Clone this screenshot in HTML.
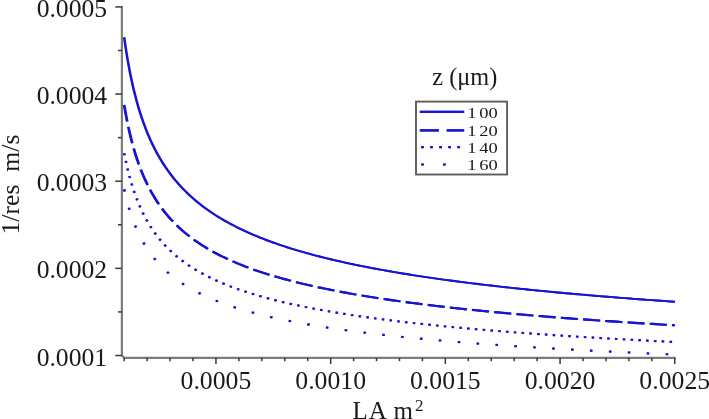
<!DOCTYPE html>
<html><head><meta charset="utf-8"><title>plot</title>
<style>html,body{margin:0;padding:0;background:#fff;}body{width:709px;height:419px;overflow:hidden;}</style>
</head><body>
<svg width="709" height="419" viewBox="0 0 709 419" style="display:block">
<rect width="709" height="419" fill="#fff"/>
<g stroke="#7c7c7c" fill="none" stroke-width="2.2">
<path d="M121.9,6 L121.9,355.5 L124.2,357.8 L675.8,357.8" stroke-linejoin="miter"/>
</g>
<g stroke="#383838" fill="none" stroke-width="1.5">
<path d="M115.3,355.50 H121.9"/>
<path d="M118,311.93 H121.9"/>
<path d="M115.3,268.35 H121.9"/>
<path d="M118,224.77 H121.9"/>
<path d="M115.3,181.20 H121.9"/>
<path d="M118,137.62 H121.9"/>
<path d="M115.3,94.05 H121.9"/>
<path d="M118,50.47 H121.9"/>
<path d="M115.3,6.90 H121.9"/>
<path d="M124.20,357.8 V361.2"/>
<path d="M147.14,357.8 V361.2"/>
<path d="M170.08,357.8 V361.2"/>
<path d="M193.02,357.8 V361.2"/>
<path d="M215.96,357.8 V364"/>
<path d="M238.90,357.8 V361.2"/>
<path d="M261.84,357.8 V361.2"/>
<path d="M284.78,357.8 V361.2"/>
<path d="M307.72,357.8 V361.2"/>
<path d="M330.66,357.8 V364"/>
<path d="M353.60,357.8 V361.2"/>
<path d="M376.54,357.8 V361.2"/>
<path d="M399.48,357.8 V361.2"/>
<path d="M422.42,357.8 V361.2"/>
<path d="M445.36,357.8 V364"/>
<path d="M468.30,357.8 V361.2"/>
<path d="M491.24,357.8 V361.2"/>
<path d="M514.18,357.8 V361.2"/>
<path d="M537.12,357.8 V361.2"/>
<path d="M560.06,357.8 V364"/>
<path d="M583.00,357.8 V361.2"/>
<path d="M605.94,357.8 V361.2"/>
<path d="M628.88,357.8 V361.2"/>
<path d="M651.82,357.8 V361.2"/>
<path d="M674.76,357.8 V364"/>
</g>
<g font-family="'Liberation Serif', 'Times New Roman', serif" fill="#1a1a1a">
<text transform="translate(107.10,365.50) scale(1.025,1)" font-size="25" text-anchor="end" xml:space="preserve">0.0001</text>
<text transform="translate(107.10,278.35) scale(1.025,1)" font-size="25" text-anchor="end" xml:space="preserve">0.0002</text>
<text transform="translate(107.10,191.20) scale(1.025,1)" font-size="25" text-anchor="end" xml:space="preserve">0.0003</text>
<text transform="translate(107.10,104.05) scale(1.025,1)" font-size="25" text-anchor="end" xml:space="preserve">0.0004</text>
<text transform="translate(107.10,16.90) scale(1.025,1)" font-size="25" text-anchor="end" xml:space="preserve">0.0005</text>
<text transform="translate(215.96,389.20) scale(1.03,1)" font-size="25" text-anchor="middle" xml:space="preserve">0.0005</text>
<text transform="translate(330.66,389.20) scale(1.03,1)" font-size="25" text-anchor="middle" xml:space="preserve">0.0010</text>
<text transform="translate(445.36,389.20) scale(1.03,1)" font-size="25" text-anchor="middle" xml:space="preserve">0.0015</text>
<text transform="translate(560.06,389.20) scale(1.03,1)" font-size="25" text-anchor="middle" xml:space="preserve">0.0020</text>
<text transform="translate(674.76,389.20) scale(1.03,1)" font-size="25" text-anchor="middle" xml:space="preserve">0.0025</text>
<text transform="translate(352.60,418.80) scale(1.0,1)" font-size="25" text-anchor="start" xml:space="preserve">L<tspan dx="0.8">A</tspan> <tspan dx="1.8">m</tspan><tspan font-size="17" dy="-7.6" dx="2.2">2</tspan></text>
<text transform="translate(18.90,234.60) rotate(-90) scale(1.03,1)" font-size="25" text-anchor="start" xml:space="preserve">1/res  m/s</text>
<text transform="translate(432.30,85.00) scale(0.972,1)" font-size="25" text-anchor="start" xml:space="preserve">z (μm)</text>
</g>
<g transform="translate(-0.32,0)" stroke="#1814d2" fill="none" stroke-width="1.9">
<path d="M124.20,37.42 L124.21,37.49 L124.24,37.70 L124.29,38.05 L124.35,38.53 L124.44,39.15 L124.55,39.91 L124.67,40.79 L124.82,41.80 L124.98,42.93 L125.16,44.18 L125.37,45.54 L125.59,47.01 L125.83,48.59 L126.09,50.27 L126.37,52.03 L126.67,53.89 L126.99,55.82 L127.32,57.84 L127.68,59.92 L128.06,62.07 L128.45,64.28 L128.87,66.54 L129.30,68.85 L129.75,71.20 L130.22,73.59 L130.72,76.01 L131.23,78.46 L131.76,80.94 L132.31,83.43 L132.87,85.94 L133.46,88.47 L134.07,91.00 L134.70,93.53 L135.34,96.07 L136.01,98.61 L136.69,101.14 L137.40,103.67 L138.12,106.19 L138.86,108.69 L139.62,111.19 L140.40,113.66 L141.20,116.13 L142.02,118.57 L142.86,121.00 L143.72,123.40 L144.60,125.78 L145.49,128.14 L146.41,130.48 L147.34,132.80 L148.30,135.08 L149.27,137.35 L150.26,139.59 L151.27,141.80 L152.31,143.98 L153.36,146.14 L154.43,148.28 L155.52,150.38 L156.62,152.46 L157.75,154.51 L158.90,156.54 L160.06,158.54 L161.25,160.51 L162.46,162.45 L163.68,164.37 L164.92,166.27 L166.19,168.13 L167.47,169.97 L168.77,171.79 L170.09,173.58 L171.43,175.34 L172.79,177.09 L174.17,178.80 L175.56,180.49 L176.98,182.16 L178.42,183.81 L179.87,185.43 L181.35,187.03 L182.84,188.60 L184.35,190.16 L185.89,191.69 L187.44,193.20 L189.01,194.69 L190.60,196.16 L192.21,197.61 L193.84,199.04 L195.49,200.45 L197.15,201.84 L198.84,203.21 L200.55,204.56 L202.27,205.89 L204.02,207.21 L205.78,208.51 L207.56,209.79 L209.37,211.05 L211.19,212.30 L213.03,213.52 L214.89,214.74 L216.77,215.93 L218.67,217.12 L220.58,218.28 L222.52,219.43 L224.48,220.57 L226.45,221.69 L228.45,222.79 L230.46,223.89 L232.50,224.96 L234.55,226.03 L236.62,227.08 L238.71,228.12 L240.83,229.14 L242.96,230.15 L245.11,231.15 L247.27,232.14 L249.46,233.12 L251.67,234.08 L253.90,235.03 L256.14,235.97 L258.41,236.90 L260.69,237.82 L262.99,238.73 L265.32,239.62 L267.66,240.51 L270.02,241.39 L272.40,242.25 L274.80,243.11 L277.22,243.95 L279.66,244.79 L282.12,245.61 L284.59,246.43 L287.09,247.24 L289.61,248.04 L292.14,248.83 L294.70,249.61 L297.27,250.38 L299.86,251.15 L302.47,251.90 L305.10,252.65 L307.76,253.39 L310.43,254.12 L313.11,254.85 L315.82,255.56 L318.55,256.27 L321.30,256.97 L324.06,257.67 L326.85,258.36 L329.65,259.04 L332.48,259.71 L335.32,260.38 L338.18,261.03 L341.07,261.69 L343.97,262.33 L346.89,262.97 L349.83,263.61 L352.79,264.23 L355.76,264.86 L358.76,265.47 L361.78,266.08 L364.82,266.68 L367.87,267.28 L370.95,267.87 L374.04,268.46 L377.15,269.04 L380.28,269.61 L383.44,270.18 L386.61,270.75 L389.80,271.31 L393.01,271.86 L396.24,272.41 L399.48,272.95 L402.75,273.49 L406.04,274.03 L409.34,274.55 L412.67,275.08 L416.01,275.60 L419.38,276.11 L422.76,276.62 L426.16,277.13 L429.59,277.63 L433.03,278.13 L436.49,278.62 L439.97,279.11 L443.47,279.60 L446.98,280.08 L450.52,280.55 L454.08,281.03 L457.65,281.49 L461.25,281.96 L464.86,282.42 L468.50,282.88 L472.15,283.33 L475.82,283.78 L479.51,284.22 L483.22,284.67 L486.95,285.11 L490.70,285.54 L494.47,285.97 L498.26,286.40 L502.07,286.82 L505.89,287.25 L509.74,287.66 L513.60,288.08 L517.49,288.49 L521.39,288.90 L525.32,289.30 L529.26,289.71 L533.22,290.10 L537.20,290.50 L541.20,290.89 L545.22,291.28 L549.26,291.67 L553.32,292.05 L557.39,292.44 L561.49,292.81 L565.60,293.19 L569.74,293.56 L573.89,293.93 L578.07,294.30 L582.26,294.66 L586.47,295.03 L590.70,295.39 L594.95,295.74 L599.22,296.10 L603.51,296.45 L607.82,296.80 L612.15,297.15 L616.50,297.49 L620.86,297.83 L625.25,298.17 L629.65,298.51 L634.08,298.85 L638.52,299.18 L642.98,299.51 L647.46,299.84 L651.96,300.16 L656.49,300.49 L661.03,300.81 L665.58,301.13 L670.16,301.44 L674.76,301.76"/>
<path d="M124.20,104.96 L124.21,105.02 L124.24,105.19 L124.29,105.48 L124.35,105.89 L124.44,106.40 L124.55,107.03 L124.67,107.77 L124.82,108.61 L124.98,109.55 L125.16,110.59 L125.37,111.73 L125.59,112.95 L125.83,114.27 L126.09,115.66 L126.37,117.14 L126.67,118.68 L126.99,120.30 L127.32,121.97 L127.68,123.71 L128.06,125.50 L128.45,127.34 L128.87,129.22 L129.30,131.15 L129.75,133.11 L130.22,135.10 L130.72,137.12 L131.23,139.16 L131.76,141.22 L132.31,143.30 L132.87,145.40 L133.46,147.50 L134.07,149.61 L134.70,151.72 L135.34,153.84 L136.01,155.95 L136.69,158.06 L137.40,160.17 L138.12,162.26 L138.86,164.35 L139.62,166.43 L140.40,168.50 L141.20,170.55 L142.02,172.58 L142.86,174.60 L143.72,176.61 L144.60,178.59 L145.49,180.56 L146.41,182.51 L147.34,184.44 L148.30,186.35 L149.27,188.23 L150.26,190.10 L151.27,191.94 L152.31,193.76 L153.36,195.56 L154.43,197.34 L155.52,199.09 L156.62,200.83 L157.75,202.54 L158.90,204.22 L160.06,205.89 L161.25,207.53 L162.46,209.15 L163.68,210.75 L164.92,212.33 L166.19,213.89 L167.47,215.42 L168.77,216.93 L170.09,218.42 L171.43,219.90 L172.79,221.35 L174.17,222.78 L175.56,224.19 L176.98,225.58 L178.42,226.95 L179.87,228.30 L181.35,229.63 L182.84,230.94 L184.35,232.24 L185.89,233.52 L187.44,234.78 L189.01,236.02 L190.60,237.24 L192.21,238.45 L193.84,239.64 L195.49,240.82 L197.15,241.97 L198.84,243.12 L200.55,244.24 L202.27,245.35 L204.02,246.45 L205.78,247.53 L207.56,248.60 L209.37,249.65 L211.19,250.69 L213.03,251.71 L214.89,252.72 L216.77,253.72 L218.67,254.70 L220.58,255.68 L222.52,256.63 L224.48,257.58 L226.45,258.51 L228.45,259.44 L230.46,260.35 L232.50,261.24 L234.55,262.13 L236.62,263.01 L238.71,263.87 L240.83,264.73 L242.96,265.57 L245.11,266.40 L247.27,267.23 L249.46,268.04 L251.67,268.84 L253.90,269.64 L256.14,270.42 L258.41,271.19 L260.69,271.96 L262.99,272.71 L265.32,273.46 L267.66,274.20 L270.02,274.93 L272.40,275.65 L274.80,276.36 L277.22,277.07 L279.66,277.76 L282.12,278.45 L284.59,279.13 L287.09,279.81 L289.61,280.47 L292.14,281.13 L294.70,281.78 L297.27,282.43 L299.86,283.06 L302.47,283.69 L305.10,284.32 L307.76,284.93 L310.43,285.54 L313.11,286.15 L315.82,286.75 L318.55,287.34 L321.30,287.92 L324.06,288.50 L326.85,289.07 L329.65,289.64 L332.48,290.20 L335.32,290.75 L338.18,291.30 L341.07,291.85 L343.97,292.39 L346.89,292.92 L349.83,293.45 L352.79,293.97 L355.76,294.49 L358.76,295.00 L361.78,295.51 L364.82,296.01 L367.87,296.51 L370.95,297.00 L374.04,297.49 L377.15,297.97 L380.28,298.45 L383.44,298.93 L386.61,299.40 L389.80,299.86 L393.01,300.32 L396.24,300.78 L399.48,301.24 L402.75,301.68 L406.04,302.13 L409.34,302.57 L412.67,303.01 L416.01,303.44 L419.38,303.87 L422.76,304.30 L426.16,304.72 L429.59,305.14 L433.03,305.55 L436.49,305.96 L439.97,306.37 L443.47,306.77 L446.98,307.17 L450.52,307.57 L454.08,307.96 L457.65,308.35 L461.25,308.74 L464.86,309.12 L468.50,309.51 L472.15,309.88 L475.82,310.26 L479.51,310.63 L483.22,311.00 L486.95,311.36 L490.70,311.73 L494.47,312.08 L498.26,312.44 L502.07,312.80 L505.89,313.15 L509.74,313.49 L513.60,313.84 L517.49,314.18 L521.39,314.52 L525.32,314.86 L529.26,315.20 L533.22,315.53 L537.20,315.86 L541.20,316.19 L545.22,316.51 L549.26,316.83 L553.32,317.15 L557.39,317.47 L561.49,317.79 L565.60,318.10 L569.74,318.41 L573.89,318.72 L578.07,319.03 L582.26,319.33 L586.47,319.63 L590.70,319.93 L594.95,320.23 L599.22,320.52 L603.51,320.82 L607.82,321.11 L612.15,321.40 L616.50,321.68 L620.86,321.97 L625.25,322.25 L629.65,322.53 L634.08,322.81 L638.52,323.09 L642.98,323.37 L647.46,323.64 L651.96,323.91 L656.49,324.18 L661.03,324.45 L665.58,324.71 L670.16,324.98 L674.76,325.24" stroke-dasharray="16.8 5.490" stroke-width="2.15"/>
<path d="M124.20,153.20 L124.21,153.25 L124.24,153.40 L124.29,153.65 L124.35,154.00 L124.44,154.44 L124.55,154.98 L124.67,155.61 L124.82,156.33 L124.98,157.14 L125.16,158.03 L125.37,159.00 L125.59,160.05 L125.83,161.18 L126.09,162.38 L126.37,163.64 L126.67,164.96 L126.99,166.35 L127.32,167.78 L127.68,169.27 L128.06,170.81 L128.45,172.38 L128.87,174.00 L129.30,175.65 L129.75,177.33 L130.22,179.03 L130.72,180.76 L131.23,182.52 L131.76,184.28 L132.31,186.07 L132.87,187.86 L133.46,189.66 L134.07,191.47 L134.70,193.28 L135.34,195.09 L136.01,196.91 L136.69,198.72 L137.40,200.52 L138.12,202.32 L138.86,204.11 L139.62,205.89 L140.40,207.66 L141.20,209.42 L142.02,211.16 L142.86,212.90 L143.72,214.61 L144.60,216.32 L145.49,218.00 L146.41,219.67 L147.34,221.33 L148.30,222.96 L149.27,224.58 L150.26,226.18 L151.27,227.76 L152.31,229.32 L153.36,230.86 L154.43,232.38 L155.52,233.89 L156.62,235.37 L157.75,236.84 L158.90,238.28 L160.06,239.71 L161.25,241.12 L162.46,242.51 L163.68,243.88 L164.92,245.23 L166.19,246.57 L167.47,247.88 L168.77,249.18 L170.09,250.46 L171.43,251.72 L172.79,252.96 L174.17,254.19 L175.56,255.40 L176.98,256.59 L178.42,257.76 L179.87,258.92 L181.35,260.06 L182.84,261.19 L184.35,262.30 L185.89,263.39 L187.44,264.47 L189.01,265.54 L190.60,266.59 L192.21,267.62 L193.84,268.64 L195.49,269.65 L197.15,270.64 L198.84,271.62 L200.55,272.59 L202.27,273.54 L204.02,274.48 L205.78,275.41 L207.56,276.32 L209.37,277.22 L211.19,278.11 L213.03,278.99 L214.89,279.86 L216.77,280.71 L218.67,281.55 L220.58,282.39 L222.52,283.21 L224.48,284.02 L226.45,284.82 L228.45,285.61 L230.46,286.39 L232.50,287.16 L234.55,287.92 L236.62,288.67 L238.71,289.41 L240.83,290.14 L242.96,290.87 L245.11,291.58 L247.27,292.29 L249.46,292.98 L251.67,293.67 L253.90,294.35 L256.14,295.02 L258.41,295.69 L260.69,296.34 L262.99,296.99 L265.32,297.63 L267.66,298.26 L270.02,298.89 L272.40,299.51 L274.80,300.12 L277.22,300.72 L279.66,301.32 L282.12,301.91 L284.59,302.49 L287.09,303.07 L289.61,303.64 L292.14,304.21 L294.70,304.76 L297.27,305.32 L299.86,305.86 L302.47,306.40 L305.10,306.94 L307.76,307.47 L310.43,307.99 L313.11,308.51 L315.82,309.02 L318.55,309.52 L321.30,310.02 L324.06,310.52 L326.85,311.01 L329.65,311.50 L332.48,311.98 L335.32,312.45 L338.18,312.92 L341.07,313.39 L343.97,313.85 L346.89,314.31 L349.83,314.76 L352.79,315.21 L355.76,315.65 L358.76,316.09 L361.78,316.53 L364.82,316.96 L367.87,317.39 L370.95,317.81 L374.04,318.23 L377.15,318.64 L380.28,319.05 L383.44,319.46 L386.61,319.86 L389.80,320.26 L393.01,320.66 L396.24,321.05 L399.48,321.44 L402.75,321.82 L406.04,322.20 L409.34,322.58 L412.67,322.96 L416.01,323.33 L419.38,323.70 L422.76,324.06 L426.16,324.42 L429.59,324.78 L433.03,325.14 L436.49,325.49 L439.97,325.84 L443.47,326.18 L446.98,326.53 L450.52,326.87 L454.08,327.20 L457.65,327.54 L461.25,327.87 L464.86,328.20 L468.50,328.53 L472.15,328.85 L475.82,329.17 L479.51,329.49 L483.22,329.80 L486.95,330.12 L490.70,330.43 L494.47,330.74 L498.26,331.04 L502.07,331.35 L505.89,331.65 L509.74,331.95 L513.60,332.24 L517.49,332.54 L521.39,332.83 L525.32,333.12 L529.26,333.40 L533.22,333.69 L537.20,333.97 L541.20,334.25 L545.22,334.53 L549.26,334.81 L553.32,335.08 L557.39,335.35 L561.49,335.62 L565.60,335.89 L569.74,336.16 L573.89,336.42 L578.07,336.69 L582.26,336.95 L586.47,337.21 L590.70,337.46 L594.95,337.72 L599.22,337.97 L603.51,338.22 L607.82,338.47 L612.15,338.72 L616.50,338.96 L620.86,339.21 L625.25,339.45 L629.65,339.69 L634.08,339.93 L638.52,340.17 L642.98,340.41 L647.46,340.64 L651.96,340.87 L656.49,341.10 L661.03,341.33 L665.58,341.56 L670.16,341.79 L674.76,342.01" stroke-dasharray="2.1 5.702" stroke-width="2.1"/>
<path d="M124.20,189.38 L124.21,189.43 L124.24,189.56 L124.29,189.77 L124.35,190.08 L124.44,190.47 L124.55,190.94 L124.67,191.49 L124.82,192.12 L124.98,192.82 L125.16,193.61 L125.37,194.46 L125.59,195.38 L125.83,196.36 L126.09,197.41 L126.37,198.51 L126.67,199.67 L126.99,200.88 L127.32,202.14 L127.68,203.44 L128.06,204.79 L128.45,206.17 L128.87,207.58 L129.30,209.02 L129.75,210.49 L130.22,211.99 L130.72,213.50 L131.23,215.03 L131.76,216.58 L132.31,218.14 L132.87,219.71 L133.46,221.29 L134.07,222.87 L134.70,224.45 L135.34,226.04 L136.01,227.62 L136.69,229.21 L137.40,230.79 L138.12,232.36 L138.86,233.93 L139.62,235.48 L140.40,237.03 L141.20,238.57 L142.02,240.10 L142.86,241.62 L143.72,243.12 L144.60,244.61 L145.49,246.08 L146.41,247.55 L147.34,248.99 L148.30,250.42 L149.27,251.84 L150.26,253.24 L151.27,254.62 L152.31,255.98 L153.36,257.33 L154.43,258.67 L155.52,259.98 L156.62,261.28 L157.75,262.56 L158.90,263.83 L160.06,265.08 L161.25,266.31 L162.46,267.53 L163.68,268.73 L164.92,269.91 L166.19,271.08 L167.47,272.23 L168.77,273.36 L170.09,274.48 L171.43,275.58 L172.79,276.67 L174.17,277.74 L175.56,278.80 L176.98,279.84 L178.42,280.87 L179.87,281.89 L181.35,282.89 L182.84,283.87 L184.35,284.84 L185.89,285.80 L187.44,286.75 L189.01,287.68 L190.60,288.59 L192.21,289.50 L193.84,290.39 L195.49,291.27 L197.15,292.14 L198.84,293.00 L200.55,293.84 L202.27,294.68 L204.02,295.50 L205.78,296.31 L207.56,297.11 L209.37,297.90 L211.19,298.68 L213.03,299.45 L214.89,300.20 L216.77,300.95 L218.67,301.69 L220.58,302.42 L222.52,303.14 L224.48,303.85 L226.45,304.55 L228.45,305.24 L230.46,305.92 L232.50,306.60 L234.55,307.26 L236.62,307.92 L238.71,308.57 L240.83,309.21 L242.96,309.84 L245.11,310.47 L247.27,311.08 L249.46,311.69 L251.67,312.29 L253.90,312.89 L256.14,313.48 L258.41,314.06 L260.69,314.63 L262.99,315.20 L265.32,315.76 L267.66,316.31 L270.02,316.86 L272.40,317.40 L274.80,317.94 L277.22,318.46 L279.66,318.99 L282.12,319.50 L284.59,320.01 L287.09,320.52 L289.61,321.02 L292.14,321.51 L294.70,322.00 L297.27,322.48 L299.86,322.96 L302.47,323.43 L305.10,323.90 L307.76,324.36 L310.43,324.82 L313.11,325.27 L315.82,325.72 L318.55,326.16 L321.30,326.60 L324.06,327.04 L326.85,327.47 L329.65,327.89 L332.48,328.31 L335.32,328.73 L338.18,329.14 L341.07,329.55 L343.97,329.95 L346.89,330.35 L349.83,330.75 L352.79,331.14 L355.76,331.53 L358.76,331.91 L361.78,332.29 L364.82,332.67 L367.87,333.04 L370.95,333.41 L374.04,333.78 L377.15,334.14 L380.28,334.50 L383.44,334.86 L386.61,335.21 L389.80,335.56 L393.01,335.91 L396.24,336.25 L399.48,336.59 L402.75,336.93 L406.04,337.26 L409.34,337.59 L412.67,337.92 L416.01,338.24 L419.38,338.56 L422.76,338.88 L426.16,339.20 L429.59,339.51 L433.03,339.82 L436.49,340.13 L439.97,340.44 L443.47,340.74 L446.98,341.04 L450.52,341.34 L454.08,341.63 L457.65,341.93 L461.25,342.22 L464.86,342.51 L468.50,342.79 L472.15,343.07 L475.82,343.36 L479.51,343.63 L483.22,343.91 L486.95,344.18 L490.70,344.46 L494.47,344.73 L498.26,344.99 L502.07,345.26 L505.89,345.52 L509.74,345.78 L513.60,346.04 L517.49,346.30 L521.39,346.56 L525.32,346.81 L529.26,347.06 L533.22,347.31 L537.20,347.56 L541.20,347.80 L545.22,348.05 L549.26,348.29 L553.32,348.53 L557.39,348.77 L561.49,349.00 L565.60,349.24 L569.74,349.47 L573.89,349.70 L578.07,349.93 L582.26,350.16 L586.47,350.39 L590.70,350.61 L594.95,350.83 L599.22,351.06 L603.51,351.27 L607.82,351.49 L612.15,351.71 L616.50,351.93 L620.86,352.14 L625.25,352.35 L629.65,352.56 L634.08,352.77 L638.52,352.98 L642.98,353.19 L647.46,353.39 L651.96,353.60 L656.49,353.80 L661.03,354.00 L665.58,354.20 L670.16,354.40 L674.76,354.59" stroke-dasharray="2.1 16.843" stroke-width="2.1"/>
</g>
<g transform="translate(0.32,0)" stroke="#1814d2" fill="none" stroke-width="1.9">
<path d="M124.20,37.42 L124.21,37.49 L124.24,37.70 L124.29,38.05 L124.35,38.53 L124.44,39.15 L124.55,39.91 L124.67,40.79 L124.82,41.80 L124.98,42.93 L125.16,44.18 L125.37,45.54 L125.59,47.01 L125.83,48.59 L126.09,50.27 L126.37,52.03 L126.67,53.89 L126.99,55.82 L127.32,57.84 L127.68,59.92 L128.06,62.07 L128.45,64.28 L128.87,66.54 L129.30,68.85 L129.75,71.20 L130.22,73.59 L130.72,76.01 L131.23,78.46 L131.76,80.94 L132.31,83.43 L132.87,85.94 L133.46,88.47 L134.07,91.00 L134.70,93.53 L135.34,96.07 L136.01,98.61 L136.69,101.14 L137.40,103.67 L138.12,106.19 L138.86,108.69 L139.62,111.19 L140.40,113.66 L141.20,116.13 L142.02,118.57 L142.86,121.00 L143.72,123.40 L144.60,125.78 L145.49,128.14 L146.41,130.48 L147.34,132.80 L148.30,135.08 L149.27,137.35 L150.26,139.59 L151.27,141.80 L152.31,143.98 L153.36,146.14 L154.43,148.28 L155.52,150.38 L156.62,152.46 L157.75,154.51 L158.90,156.54 L160.06,158.54 L161.25,160.51 L162.46,162.45 L163.68,164.37 L164.92,166.27 L166.19,168.13 L167.47,169.97 L168.77,171.79 L170.09,173.58 L171.43,175.34 L172.79,177.09 L174.17,178.80 L175.56,180.49 L176.98,182.16 L178.42,183.81 L179.87,185.43 L181.35,187.03 L182.84,188.60 L184.35,190.16 L185.89,191.69 L187.44,193.20 L189.01,194.69 L190.60,196.16 L192.21,197.61 L193.84,199.04 L195.49,200.45 L197.15,201.84 L198.84,203.21 L200.55,204.56 L202.27,205.89 L204.02,207.21 L205.78,208.51 L207.56,209.79 L209.37,211.05 L211.19,212.30 L213.03,213.52 L214.89,214.74 L216.77,215.93 L218.67,217.12 L220.58,218.28 L222.52,219.43 L224.48,220.57 L226.45,221.69 L228.45,222.79 L230.46,223.89 L232.50,224.96 L234.55,226.03 L236.62,227.08 L238.71,228.12 L240.83,229.14 L242.96,230.15 L245.11,231.15 L247.27,232.14 L249.46,233.12 L251.67,234.08 L253.90,235.03 L256.14,235.97 L258.41,236.90 L260.69,237.82 L262.99,238.73 L265.32,239.62 L267.66,240.51 L270.02,241.39 L272.40,242.25 L274.80,243.11 L277.22,243.95 L279.66,244.79 L282.12,245.61 L284.59,246.43 L287.09,247.24 L289.61,248.04 L292.14,248.83 L294.70,249.61 L297.27,250.38 L299.86,251.15 L302.47,251.90 L305.10,252.65 L307.76,253.39 L310.43,254.12 L313.11,254.85 L315.82,255.56 L318.55,256.27 L321.30,256.97 L324.06,257.67 L326.85,258.36 L329.65,259.04 L332.48,259.71 L335.32,260.38 L338.18,261.03 L341.07,261.69 L343.97,262.33 L346.89,262.97 L349.83,263.61 L352.79,264.23 L355.76,264.86 L358.76,265.47 L361.78,266.08 L364.82,266.68 L367.87,267.28 L370.95,267.87 L374.04,268.46 L377.15,269.04 L380.28,269.61 L383.44,270.18 L386.61,270.75 L389.80,271.31 L393.01,271.86 L396.24,272.41 L399.48,272.95 L402.75,273.49 L406.04,274.03 L409.34,274.55 L412.67,275.08 L416.01,275.60 L419.38,276.11 L422.76,276.62 L426.16,277.13 L429.59,277.63 L433.03,278.13 L436.49,278.62 L439.97,279.11 L443.47,279.60 L446.98,280.08 L450.52,280.55 L454.08,281.03 L457.65,281.49 L461.25,281.96 L464.86,282.42 L468.50,282.88 L472.15,283.33 L475.82,283.78 L479.51,284.22 L483.22,284.67 L486.95,285.11 L490.70,285.54 L494.47,285.97 L498.26,286.40 L502.07,286.82 L505.89,287.25 L509.74,287.66 L513.60,288.08 L517.49,288.49 L521.39,288.90 L525.32,289.30 L529.26,289.71 L533.22,290.10 L537.20,290.50 L541.20,290.89 L545.22,291.28 L549.26,291.67 L553.32,292.05 L557.39,292.44 L561.49,292.81 L565.60,293.19 L569.74,293.56 L573.89,293.93 L578.07,294.30 L582.26,294.66 L586.47,295.03 L590.70,295.39 L594.95,295.74 L599.22,296.10 L603.51,296.45 L607.82,296.80 L612.15,297.15 L616.50,297.49 L620.86,297.83 L625.25,298.17 L629.65,298.51 L634.08,298.85 L638.52,299.18 L642.98,299.51 L647.46,299.84 L651.96,300.16 L656.49,300.49 L661.03,300.81 L665.58,301.13 L670.16,301.44 L674.76,301.76"/>
<path d="M124.20,104.96 L124.21,105.02 L124.24,105.19 L124.29,105.48 L124.35,105.89 L124.44,106.40 L124.55,107.03 L124.67,107.77 L124.82,108.61 L124.98,109.55 L125.16,110.59 L125.37,111.73 L125.59,112.95 L125.83,114.27 L126.09,115.66 L126.37,117.14 L126.67,118.68 L126.99,120.30 L127.32,121.97 L127.68,123.71 L128.06,125.50 L128.45,127.34 L128.87,129.22 L129.30,131.15 L129.75,133.11 L130.22,135.10 L130.72,137.12 L131.23,139.16 L131.76,141.22 L132.31,143.30 L132.87,145.40 L133.46,147.50 L134.07,149.61 L134.70,151.72 L135.34,153.84 L136.01,155.95 L136.69,158.06 L137.40,160.17 L138.12,162.26 L138.86,164.35 L139.62,166.43 L140.40,168.50 L141.20,170.55 L142.02,172.58 L142.86,174.60 L143.72,176.61 L144.60,178.59 L145.49,180.56 L146.41,182.51 L147.34,184.44 L148.30,186.35 L149.27,188.23 L150.26,190.10 L151.27,191.94 L152.31,193.76 L153.36,195.56 L154.43,197.34 L155.52,199.09 L156.62,200.83 L157.75,202.54 L158.90,204.22 L160.06,205.89 L161.25,207.53 L162.46,209.15 L163.68,210.75 L164.92,212.33 L166.19,213.89 L167.47,215.42 L168.77,216.93 L170.09,218.42 L171.43,219.90 L172.79,221.35 L174.17,222.78 L175.56,224.19 L176.98,225.58 L178.42,226.95 L179.87,228.30 L181.35,229.63 L182.84,230.94 L184.35,232.24 L185.89,233.52 L187.44,234.78 L189.01,236.02 L190.60,237.24 L192.21,238.45 L193.84,239.64 L195.49,240.82 L197.15,241.97 L198.84,243.12 L200.55,244.24 L202.27,245.35 L204.02,246.45 L205.78,247.53 L207.56,248.60 L209.37,249.65 L211.19,250.69 L213.03,251.71 L214.89,252.72 L216.77,253.72 L218.67,254.70 L220.58,255.68 L222.52,256.63 L224.48,257.58 L226.45,258.51 L228.45,259.44 L230.46,260.35 L232.50,261.24 L234.55,262.13 L236.62,263.01 L238.71,263.87 L240.83,264.73 L242.96,265.57 L245.11,266.40 L247.27,267.23 L249.46,268.04 L251.67,268.84 L253.90,269.64 L256.14,270.42 L258.41,271.19 L260.69,271.96 L262.99,272.71 L265.32,273.46 L267.66,274.20 L270.02,274.93 L272.40,275.65 L274.80,276.36 L277.22,277.07 L279.66,277.76 L282.12,278.45 L284.59,279.13 L287.09,279.81 L289.61,280.47 L292.14,281.13 L294.70,281.78 L297.27,282.43 L299.86,283.06 L302.47,283.69 L305.10,284.32 L307.76,284.93 L310.43,285.54 L313.11,286.15 L315.82,286.75 L318.55,287.34 L321.30,287.92 L324.06,288.50 L326.85,289.07 L329.65,289.64 L332.48,290.20 L335.32,290.75 L338.18,291.30 L341.07,291.85 L343.97,292.39 L346.89,292.92 L349.83,293.45 L352.79,293.97 L355.76,294.49 L358.76,295.00 L361.78,295.51 L364.82,296.01 L367.87,296.51 L370.95,297.00 L374.04,297.49 L377.15,297.97 L380.28,298.45 L383.44,298.93 L386.61,299.40 L389.80,299.86 L393.01,300.32 L396.24,300.78 L399.48,301.24 L402.75,301.68 L406.04,302.13 L409.34,302.57 L412.67,303.01 L416.01,303.44 L419.38,303.87 L422.76,304.30 L426.16,304.72 L429.59,305.14 L433.03,305.55 L436.49,305.96 L439.97,306.37 L443.47,306.77 L446.98,307.17 L450.52,307.57 L454.08,307.96 L457.65,308.35 L461.25,308.74 L464.86,309.12 L468.50,309.51 L472.15,309.88 L475.82,310.26 L479.51,310.63 L483.22,311.00 L486.95,311.36 L490.70,311.73 L494.47,312.08 L498.26,312.44 L502.07,312.80 L505.89,313.15 L509.74,313.49 L513.60,313.84 L517.49,314.18 L521.39,314.52 L525.32,314.86 L529.26,315.20 L533.22,315.53 L537.20,315.86 L541.20,316.19 L545.22,316.51 L549.26,316.83 L553.32,317.15 L557.39,317.47 L561.49,317.79 L565.60,318.10 L569.74,318.41 L573.89,318.72 L578.07,319.03 L582.26,319.33 L586.47,319.63 L590.70,319.93 L594.95,320.23 L599.22,320.52 L603.51,320.82 L607.82,321.11 L612.15,321.40 L616.50,321.68 L620.86,321.97 L625.25,322.25 L629.65,322.53 L634.08,322.81 L638.52,323.09 L642.98,323.37 L647.46,323.64 L651.96,323.91 L656.49,324.18 L661.03,324.45 L665.58,324.71 L670.16,324.98 L674.76,325.24" stroke-dasharray="16.8 5.490" stroke-width="2.15"/>
<path d="M124.20,153.20 L124.21,153.25 L124.24,153.40 L124.29,153.65 L124.35,154.00 L124.44,154.44 L124.55,154.98 L124.67,155.61 L124.82,156.33 L124.98,157.14 L125.16,158.03 L125.37,159.00 L125.59,160.05 L125.83,161.18 L126.09,162.38 L126.37,163.64 L126.67,164.96 L126.99,166.35 L127.32,167.78 L127.68,169.27 L128.06,170.81 L128.45,172.38 L128.87,174.00 L129.30,175.65 L129.75,177.33 L130.22,179.03 L130.72,180.76 L131.23,182.52 L131.76,184.28 L132.31,186.07 L132.87,187.86 L133.46,189.66 L134.07,191.47 L134.70,193.28 L135.34,195.09 L136.01,196.91 L136.69,198.72 L137.40,200.52 L138.12,202.32 L138.86,204.11 L139.62,205.89 L140.40,207.66 L141.20,209.42 L142.02,211.16 L142.86,212.90 L143.72,214.61 L144.60,216.32 L145.49,218.00 L146.41,219.67 L147.34,221.33 L148.30,222.96 L149.27,224.58 L150.26,226.18 L151.27,227.76 L152.31,229.32 L153.36,230.86 L154.43,232.38 L155.52,233.89 L156.62,235.37 L157.75,236.84 L158.90,238.28 L160.06,239.71 L161.25,241.12 L162.46,242.51 L163.68,243.88 L164.92,245.23 L166.19,246.57 L167.47,247.88 L168.77,249.18 L170.09,250.46 L171.43,251.72 L172.79,252.96 L174.17,254.19 L175.56,255.40 L176.98,256.59 L178.42,257.76 L179.87,258.92 L181.35,260.06 L182.84,261.19 L184.35,262.30 L185.89,263.39 L187.44,264.47 L189.01,265.54 L190.60,266.59 L192.21,267.62 L193.84,268.64 L195.49,269.65 L197.15,270.64 L198.84,271.62 L200.55,272.59 L202.27,273.54 L204.02,274.48 L205.78,275.41 L207.56,276.32 L209.37,277.22 L211.19,278.11 L213.03,278.99 L214.89,279.86 L216.77,280.71 L218.67,281.55 L220.58,282.39 L222.52,283.21 L224.48,284.02 L226.45,284.82 L228.45,285.61 L230.46,286.39 L232.50,287.16 L234.55,287.92 L236.62,288.67 L238.71,289.41 L240.83,290.14 L242.96,290.87 L245.11,291.58 L247.27,292.29 L249.46,292.98 L251.67,293.67 L253.90,294.35 L256.14,295.02 L258.41,295.69 L260.69,296.34 L262.99,296.99 L265.32,297.63 L267.66,298.26 L270.02,298.89 L272.40,299.51 L274.80,300.12 L277.22,300.72 L279.66,301.32 L282.12,301.91 L284.59,302.49 L287.09,303.07 L289.61,303.64 L292.14,304.21 L294.70,304.76 L297.27,305.32 L299.86,305.86 L302.47,306.40 L305.10,306.94 L307.76,307.47 L310.43,307.99 L313.11,308.51 L315.82,309.02 L318.55,309.52 L321.30,310.02 L324.06,310.52 L326.85,311.01 L329.65,311.50 L332.48,311.98 L335.32,312.45 L338.18,312.92 L341.07,313.39 L343.97,313.85 L346.89,314.31 L349.83,314.76 L352.79,315.21 L355.76,315.65 L358.76,316.09 L361.78,316.53 L364.82,316.96 L367.87,317.39 L370.95,317.81 L374.04,318.23 L377.15,318.64 L380.28,319.05 L383.44,319.46 L386.61,319.86 L389.80,320.26 L393.01,320.66 L396.24,321.05 L399.48,321.44 L402.75,321.82 L406.04,322.20 L409.34,322.58 L412.67,322.96 L416.01,323.33 L419.38,323.70 L422.76,324.06 L426.16,324.42 L429.59,324.78 L433.03,325.14 L436.49,325.49 L439.97,325.84 L443.47,326.18 L446.98,326.53 L450.52,326.87 L454.08,327.20 L457.65,327.54 L461.25,327.87 L464.86,328.20 L468.50,328.53 L472.15,328.85 L475.82,329.17 L479.51,329.49 L483.22,329.80 L486.95,330.12 L490.70,330.43 L494.47,330.74 L498.26,331.04 L502.07,331.35 L505.89,331.65 L509.74,331.95 L513.60,332.24 L517.49,332.54 L521.39,332.83 L525.32,333.12 L529.26,333.40 L533.22,333.69 L537.20,333.97 L541.20,334.25 L545.22,334.53 L549.26,334.81 L553.32,335.08 L557.39,335.35 L561.49,335.62 L565.60,335.89 L569.74,336.16 L573.89,336.42 L578.07,336.69 L582.26,336.95 L586.47,337.21 L590.70,337.46 L594.95,337.72 L599.22,337.97 L603.51,338.22 L607.82,338.47 L612.15,338.72 L616.50,338.96 L620.86,339.21 L625.25,339.45 L629.65,339.69 L634.08,339.93 L638.52,340.17 L642.98,340.41 L647.46,340.64 L651.96,340.87 L656.49,341.10 L661.03,341.33 L665.58,341.56 L670.16,341.79 L674.76,342.01" stroke-dasharray="2.1 5.702" stroke-width="2.1"/>
<path d="M124.20,189.38 L124.21,189.43 L124.24,189.56 L124.29,189.77 L124.35,190.08 L124.44,190.47 L124.55,190.94 L124.67,191.49 L124.82,192.12 L124.98,192.82 L125.16,193.61 L125.37,194.46 L125.59,195.38 L125.83,196.36 L126.09,197.41 L126.37,198.51 L126.67,199.67 L126.99,200.88 L127.32,202.14 L127.68,203.44 L128.06,204.79 L128.45,206.17 L128.87,207.58 L129.30,209.02 L129.75,210.49 L130.22,211.99 L130.72,213.50 L131.23,215.03 L131.76,216.58 L132.31,218.14 L132.87,219.71 L133.46,221.29 L134.07,222.87 L134.70,224.45 L135.34,226.04 L136.01,227.62 L136.69,229.21 L137.40,230.79 L138.12,232.36 L138.86,233.93 L139.62,235.48 L140.40,237.03 L141.20,238.57 L142.02,240.10 L142.86,241.62 L143.72,243.12 L144.60,244.61 L145.49,246.08 L146.41,247.55 L147.34,248.99 L148.30,250.42 L149.27,251.84 L150.26,253.24 L151.27,254.62 L152.31,255.98 L153.36,257.33 L154.43,258.67 L155.52,259.98 L156.62,261.28 L157.75,262.56 L158.90,263.83 L160.06,265.08 L161.25,266.31 L162.46,267.53 L163.68,268.73 L164.92,269.91 L166.19,271.08 L167.47,272.23 L168.77,273.36 L170.09,274.48 L171.43,275.58 L172.79,276.67 L174.17,277.74 L175.56,278.80 L176.98,279.84 L178.42,280.87 L179.87,281.89 L181.35,282.89 L182.84,283.87 L184.35,284.84 L185.89,285.80 L187.44,286.75 L189.01,287.68 L190.60,288.59 L192.21,289.50 L193.84,290.39 L195.49,291.27 L197.15,292.14 L198.84,293.00 L200.55,293.84 L202.27,294.68 L204.02,295.50 L205.78,296.31 L207.56,297.11 L209.37,297.90 L211.19,298.68 L213.03,299.45 L214.89,300.20 L216.77,300.95 L218.67,301.69 L220.58,302.42 L222.52,303.14 L224.48,303.85 L226.45,304.55 L228.45,305.24 L230.46,305.92 L232.50,306.60 L234.55,307.26 L236.62,307.92 L238.71,308.57 L240.83,309.21 L242.96,309.84 L245.11,310.47 L247.27,311.08 L249.46,311.69 L251.67,312.29 L253.90,312.89 L256.14,313.48 L258.41,314.06 L260.69,314.63 L262.99,315.20 L265.32,315.76 L267.66,316.31 L270.02,316.86 L272.40,317.40 L274.80,317.94 L277.22,318.46 L279.66,318.99 L282.12,319.50 L284.59,320.01 L287.09,320.52 L289.61,321.02 L292.14,321.51 L294.70,322.00 L297.27,322.48 L299.86,322.96 L302.47,323.43 L305.10,323.90 L307.76,324.36 L310.43,324.82 L313.11,325.27 L315.82,325.72 L318.55,326.16 L321.30,326.60 L324.06,327.04 L326.85,327.47 L329.65,327.89 L332.48,328.31 L335.32,328.73 L338.18,329.14 L341.07,329.55 L343.97,329.95 L346.89,330.35 L349.83,330.75 L352.79,331.14 L355.76,331.53 L358.76,331.91 L361.78,332.29 L364.82,332.67 L367.87,333.04 L370.95,333.41 L374.04,333.78 L377.15,334.14 L380.28,334.50 L383.44,334.86 L386.61,335.21 L389.80,335.56 L393.01,335.91 L396.24,336.25 L399.48,336.59 L402.75,336.93 L406.04,337.26 L409.34,337.59 L412.67,337.92 L416.01,338.24 L419.38,338.56 L422.76,338.88 L426.16,339.20 L429.59,339.51 L433.03,339.82 L436.49,340.13 L439.97,340.44 L443.47,340.74 L446.98,341.04 L450.52,341.34 L454.08,341.63 L457.65,341.93 L461.25,342.22 L464.86,342.51 L468.50,342.79 L472.15,343.07 L475.82,343.36 L479.51,343.63 L483.22,343.91 L486.95,344.18 L490.70,344.46 L494.47,344.73 L498.26,344.99 L502.07,345.26 L505.89,345.52 L509.74,345.78 L513.60,346.04 L517.49,346.30 L521.39,346.56 L525.32,346.81 L529.26,347.06 L533.22,347.31 L537.20,347.56 L541.20,347.80 L545.22,348.05 L549.26,348.29 L553.32,348.53 L557.39,348.77 L561.49,349.00 L565.60,349.24 L569.74,349.47 L573.89,349.70 L578.07,349.93 L582.26,350.16 L586.47,350.39 L590.70,350.61 L594.95,350.83 L599.22,351.06 L603.51,351.27 L607.82,351.49 L612.15,351.71 L616.50,351.93 L620.86,352.14 L625.25,352.35 L629.65,352.56 L634.08,352.77 L638.52,352.98 L642.98,353.19 L647.46,353.39 L651.96,353.60 L656.49,353.80 L661.03,354.00 L665.58,354.20 L670.16,354.40 L674.76,354.59" stroke-dasharray="2.1 16.843" stroke-width="2.1"/>
</g>
<rect x="416.0" y="101.6" width="91.1" height="72.9" fill="#fff" stroke="#5e5e5e" stroke-width="1.9"/>
<g transform="translate(-0.32,0)" stroke="#1814d2" fill="none" stroke-width="2.2">
<path d="M420,111.9 H464"/>
<path d="M420,130.4 H438.7 M446.8,130.4 H464"/>
<path d="M421.4,147.1 H464" stroke-dasharray="2.2 6.83"/>
<path d="M421.4,164.5 H464" stroke-dasharray="2.2 19.7"/>
</g>
<g transform="translate(0.32,0)" stroke="#1814d2" fill="none" stroke-width="2.2">
<path d="M420,111.9 H464"/>
<path d="M420,130.4 H438.7 M446.8,130.4 H464"/>
<path d="M421.4,147.1 H464" stroke-dasharray="2.2 6.83"/>
<path d="M421.4,164.5 H464" stroke-dasharray="2.2 19.7"/>
</g>
<g font-family="'Liberation Serif', 'Times New Roman', serif" font-size="14.8" fill="#1a1a1a">
<text transform="translate(467.3,118.0) scale(1.25,1)" x="0 9.5 17.0">100</text>
<text transform="translate(467.3,135.7) scale(1.25,1)" x="0 9.5 17.0">120</text>
<text transform="translate(467.3,153.0) scale(1.25,1)" x="0 9.5 17.0">140</text>
<text transform="translate(467.3,170.4) scale(1.25,1)" x="0 9.5 17.0">160</text>
</g>
</svg>
</body></html>
